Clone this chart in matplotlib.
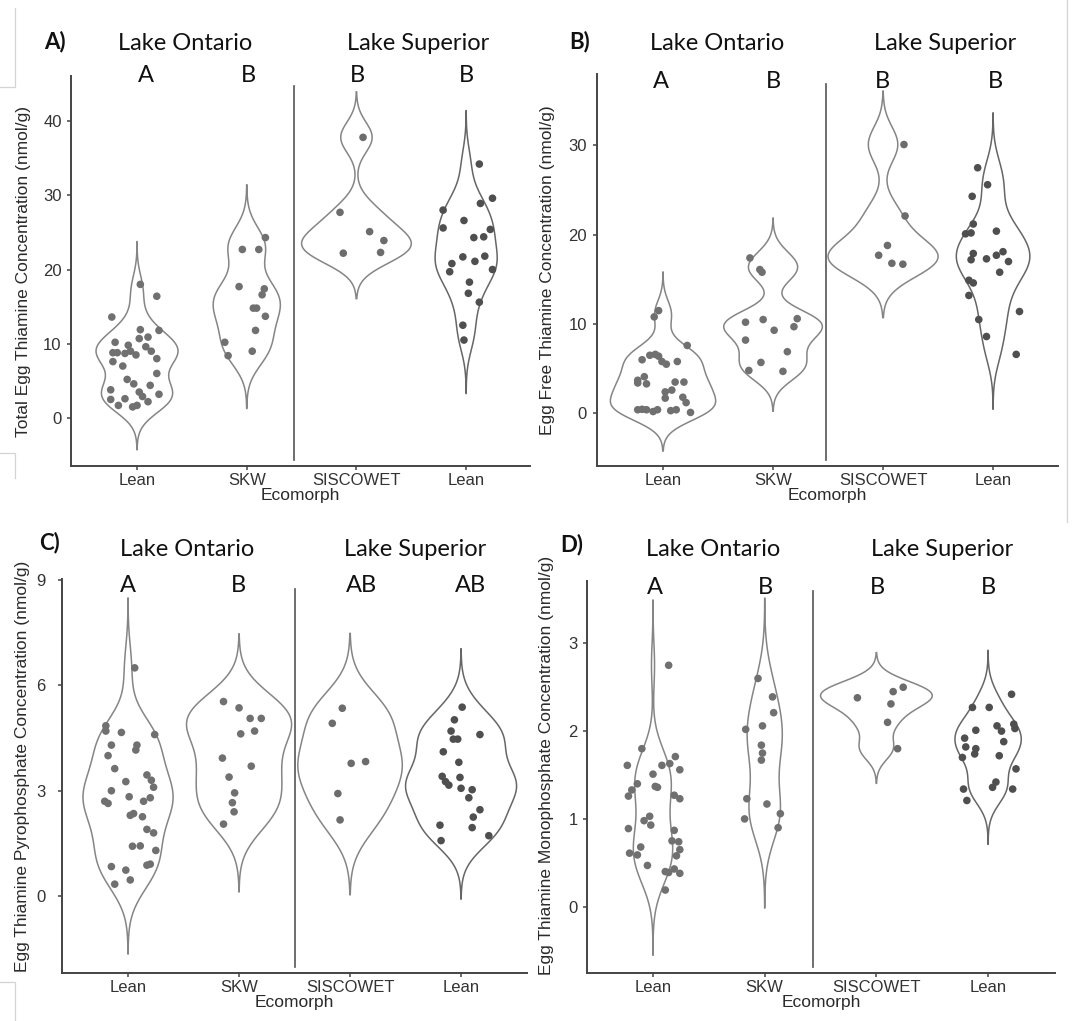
import numpy as np
import matplotlib
matplotlib.use('Agg')
import matplotlib.pyplot as plt

# ---------------- data ----------------
groups = ['Lean', 'SKW', 'SISCOWET', 'Lean']
lake_titles = ['Lake Ontario', 'Lake Superior']

# Panel A: total egg thiamine (nmol/g)
a_lean_on = [18.0, 16.4, 13.6, 11.9, 11.8, 10.9, 10.7, 10.2, 9.8, 9.6, 8.8, 8.8, 8.7, 9.0, 8.5, 9.0,
             8.0, 7.6, 7.0, 6.0, 5.2, 4.6, 4.4, 3.8, 3.5, 3.2, 2.9, 2.5, 2.6, 2.2, 1.7, 1.5, 1.7]
a_lean_on_jit = [0.03, 0.18, -0.23, 0.03, 0.20, 0.10, 0.02, -0.20, -0.08, 0.08, -0.22, -0.18, -0.11, -0.06, -0.01, 0.13,
                 0.18, -0.22, -0.13, 0.18, -0.09, -0.03, 0.12, -0.24, 0.02, 0.20, 0.05, -0.24, -0.11, 0.10, -0.17, -0.04, 0.00]
a_skw = [24.3, 22.7, 22.7, 17.7, 17.4, 16.6, 14.8, 14.8, 13.7, 11.8, 10.2, 8.4, 9.0]
a_skw_jit = [0.17, -0.04, 0.11, -0.07, 0.16, 0.14, 0.06, 0.09, 0.17, 0.08, -0.20, -0.17, 0.05]
a_sis = [37.8, 27.7, 25.1, 23.9, 22.2, 22.3]
a_sis_jit = [0.06, -0.15, 0.12, 0.25, -0.12, 0.22]
a_lean_su = [34.2, 29.6, 28.9, 28.0, 26.6, 25.6, 25.4, 24.3, 24.4, 21.7, 21.1, 21.8, 20.8, 19.7, 20.0,
             18.3, 16.8, 15.6, 12.5, 10.5]
a_lean_su_jit = [0.12, 0.24, 0.13, -0.21, -0.02, -0.21, 0.22, 0.07, 0.16, -0.03, 0.08, 0.17, -0.13, -0.15, 0.24,
                 0.03, 0.02, 0.12, -0.03, -0.02]

# Panel B: egg free thiamine (nmol/g)
b_lean_on = [11.5, 10.8, 7.6, 6.0, 6.5, 6.6, 6.4, 5.8, 5.5, 5.8, 3.7, 4.1, 3.3, 3.4, 3.5, 3.5, 2.4, 2.6,
             1.7, 1.8, 1.2, 0.1, 0.4, 0.45, 0.4, 0.2, 0.4, 0.3, 0.4]
b_lean_on_jit = [-0.04, -0.08, 0.22, -0.19, -0.12, -0.07, -0.04, -0.01, 0.03, 0.13, -0.23, -0.17, -0.15, -0.23, 0.11, 0.19,
                 0.02, 0.08, 0.02, 0.18, 0.21, 0.25, -0.23, -0.19, -0.15, -0.09, -0.05, 0.07, 0.12]
b_skw = [17.4, 16.1, 15.8, 10.2, 10.5, 9.3, 10.6, 9.7, 8.2, 6.9, 4.8, 5.7, 4.7]
b_skw_jit = [-0.21, -0.12, -0.10, -0.25, -0.09, 0.01, 0.22, 0.19, -0.25, 0.13, -0.22, -0.11, 0.09]
b_sis = [30.1, 22.1, 18.8, 17.7, 16.8, 16.7]
b_sis_jit = [0.19, 0.20, 0.04, -0.04, 0.08, 0.18]
b_lean_su = [27.5, 25.6, 24.3, 21.2, 20.1, 20.2, 20.4, 17.9, 17.2, 17.3, 17.7, 18.1, 17.0, 15.8, 14.9,
             14.6, 13.2, 11.4, 10.5, 8.6, 6.6]
b_lean_su_jit = [-0.14, -0.05, -0.19, -0.18, -0.25, -0.20, 0.03, -0.18, -0.20, -0.06, 0.03, 0.09, 0.14, 0.06, -0.22,
                 -0.18, -0.22, 0.24, -0.13, -0.06, 0.21]

# Panel C: egg thiamine pyrophosphate (nmol/g)
c_lean_on = [6.5, 4.85, 4.7, 4.66, 4.6, 4.3, 4.3, 4.16, 4.0, 3.63, 3.26, 3.45, 3.3, 3.1, 3.0, 2.7, 2.64,
             2.83, 2.7, 2.8, 2.3, 2.35, 2.26, 1.9, 1.8, 1.42, 1.43, 1.3, 0.84, 0.74, 0.88, 0.91, 0.34, 0.46]
c_lean_on_jit = [0.06, -0.20, -0.20, -0.06, 0.24, -0.15, 0.08, 0.07, -0.18, -0.12, -0.02, 0.17, 0.21, 0.23, -0.15, -0.21, -0.18,
                 0.01, 0.14, 0.20, 0.02, 0.05, 0.13, 0.17, 0.23, 0.04, 0.11, 0.25, -0.15, -0.02, 0.17, 0.20, -0.12, 0.02]
c_skw = [5.54, 5.36, 5.06, 5.06, 4.62, 4.70, 3.93, 3.70, 3.39, 2.94, 2.66, 2.40, 2.05]
c_skw_jit = [-0.14, 0.00, 0.10, 0.20, 0.015, 0.14, -0.15, 0.11, -0.09, -0.04, -0.06, -0.045, -0.14]
c_sis = [5.35, 4.92, 3.78, 3.83, 2.92, 2.17]
c_sis_jit = [-0.07, -0.16, 0.01, 0.14, -0.11, -0.09]
c_lean_su = [5.38, 5.02, 4.6, 4.7, 4.47, 4.47, 4.11, 3.81, 3.41, 3.26, 3.16, 3.38, 3.07, 3.03, 2.8,
             2.46, 2.25, 2.02, 1.95, 1.72, 1.58]
c_lean_su_jit = [0.01, -0.06, 0.17, -0.09, -0.07, -0.03, -0.16, -0.02, -0.17, -0.14, -0.11, -0.01, 0.00, 0.10, 0.07,
                 0.17, 0.11, -0.19, 0.10, 0.25, -0.18]

# Panel D: egg thiamine monophosphate (nmol/g)
d_lean_on = [2.75, 1.80, 1.61, 1.71, 1.61, 1.63, 1.56, 1.51, 1.40, 1.33, 1.26, 1.37, 1.36, 1.27, 1.23,
             0.89, 0.98, 1.03, 0.93, 0.87, 0.75, 0.74, 0.65, 0.58, 0.61, 0.59, 0.68, 0.47, 0.40, 0.39,
             0.43, 0.38, 0.19]
d_lean_on_jit = [0.14, -0.10, -0.23, 0.20, 0.08, 0.15, 0.24, 0.00, -0.14, -0.19, -0.22, 0.02, 0.04, 0.19, 0.24,
                 -0.22, -0.08, -0.03, -0.02, 0.19, 0.17, 0.23, 0.24, 0.21, -0.21, -0.14, -0.11, -0.05, 0.11, 0.14,
                 0.19, 0.24, 0.11]
d_skw = [2.60, 2.39, 2.21, 2.02, 2.06, 1.84, 1.75, 1.67, 1.23, 1.17, 1.00, 1.06, 0.90]
d_skw_jit = [-0.06, 0.07, 0.08, -0.17, -0.02, -0.03, -0.02, -0.03, -0.16, 0.02, -0.18, 0.14, 0.12]
d_sis = [2.38, 2.45, 2.50, 2.31, 2.10, 1.80]
d_sis_jit = [-0.17, 0.15, 0.24, 0.13, 0.10, 0.19]
d_lean_su = [2.42, 2.27, 2.27, 2.01, 2.06, 2.00, 2.08, 2.03, 1.92, 1.82, 1.80, 1.74, 1.88, 1.70, 1.72,
             1.57, 1.42, 1.36, 1.34, 1.34, 1.21]
d_lean_su_jit = [0.21, -0.14, 0.01, -0.11, 0.08, 0.12, 0.23, 0.24, -0.21, -0.20, -0.11, -0.12, 0.14, -0.23, 0.10,
                 0.25, 0.07, 0.04, -0.22, 0.22, -0.19]

letters_a = ['A', 'B', 'B', 'B']
letters_b = ['A', 'B', 'B', 'B']
letters_c = ['A', 'B', 'AB', 'AB']
letters_d = ['A', 'B', 'B', 'B']

ylabels = ['Total Egg Thiamine Concentration (nmol/g)',
           'Egg Free Thiamine Concentration (nmol/g)',
           'Egg Thiamine Pyrophosphate Concentration (nmol/g)',
           'Egg Thiamine Monophosphate Concentration (nmol/g)']

# ---------------- helpers ----------------
W, H = 1084, 1021
TITLE_FONT = ['Lato', 'DejaVu Sans']
AXIS_FONT = ['Liberation Sans', 'DejaVu Sans']
plt.rcParams['font.family'] = AXIS_FONT


def nrd0(x):
    # R's default bandwidth (what ggplot's geom_violin uses)
    x = np.asarray(x)
    q75, q25 = np.percentile(x, [75, 25])
    lo = min(np.std(x, ddof=1), (q75 - q25) / 1.34)
    return 0.9 * lo * len(x) ** -0.2


def kde(x):
    x = np.asarray(x)
    bw = nrd0(x)
    grid = np.linspace(x.min() - 3 * bw, x.max() + 3 * bw, 512)
    z = (grid[:, None] - x[None, :]) / bw
    dens = np.exp(-0.5 * z ** 2).sum(axis=1) / (len(x) * bw * np.sqrt(2 * np.pi))
    return grid, dens


def px_axes(l, t, r, b):
    return [l / W, 1 - b / H, (r - l) / W, (b - t) / H]


def fig_text(x, y, s, **kw):
    fig.text(x / W, 1 - y / H, s, ha='center', va='center', **kw)


def fig_line(xs, ys, **kw):
    fig.add_artist(plt.Line2D([x / W for x in xs], [1 - y / H for y in ys], **kw))


fig = plt.figure(figsize=(W / 100, H / 100), dpi=100)

panels = [
    dict(rect=(71, 76, 530, 466), xlim=(0.398, 4.582), ylim=(-6.46, 46.06), yticks=[0, 10, 20, 30, 40],
         sep=2.43, data=[(a_lean_on, a_lean_on_jit), (a_skw, a_skw_jit), (a_sis, a_sis_jit), (a_lean_su, a_lean_su_jit)],
         letters=letters_a, letter_x=[146, 248, 357, 466], letter_y=75, pad=3.5, ylab_xy=(-0.087, 0.5),
         tag='A)', tag_xy=(55, 42), lakes_xy=[(185, 43), (418, 43)]),
    dict(rect=(597, 74, 1058, 466), xlim=(0.40, 4.59), ylim=(-5.9, 38.0), yticks=[0, 10, 20, 30],
         sep=2.48, data=[(b_lean_on, b_lean_on_jit), (b_skw, b_skw_jit), (b_sis, b_sis_jit), (b_lean_su, b_lean_su_jit)],
         letters=letters_b, letter_x=[661, 773, 882, 995], letter_y=82, pad=4.0, ylab_xy=(-0.091, 0.5),
         tag='B)', tag_xy=(580, 42), lakes_xy=[(717, 43), (945, 43)]),
    dict(rect=(62, 579, 527, 973), xlim=(0.405, 4.594), ylim=(-2.19, 9.03), yticks=[0, 3, 6, 9],
         sep=2.50, data=[(c_lean_on, c_lean_on_jit), (c_skw, c_skw_jit), (c_sis, c_sis_jit), (c_lean_su, c_lean_su_jit)],
         letters=letters_c, letter_x=[128, 238, 361, 470], letter_y=585, pad=8.5, ylab_xy=(-0.069, 0.525),
         tag='C)', tag_xy=(50, 543), lakes_xy=[(187, 549), (415, 549)]),
    dict(rect=(587, 581, 1055, 973), xlim=(0.409, 4.599), ylim=(-0.755, 3.71), yticks=[0, 1, 2, 3],
         sep=2.43, data=[(d_lean_on, d_lean_on_jit), (d_skw, d_skw_jit), (d_sis, d_sis_jit), (d_lean_su, d_lean_su_jit)],
         letters=letters_d, letter_x=[655, 765, 877, 988], letter_y=587, pad=3.5, ylab_xy=(-0.0705, 0.53),
         tag='D)', tag_xy=(572, 545), lakes_xy=[(713, 549), (942, 549)]),
]

point_cols = ['#707070', '#707070', '#6c6c6c', '#4f4f4f']
violin_cols = ['#858585', '#858585', '#858585', '#666666']

for p, ylab in zip(panels, ylabels):
    ax = fig.add_axes(px_axes(*p['rect']))
    kdes = [kde(vals) for vals, _ in p['data']]
    dmax = max(d.max() for _, d in kdes)
    for i, ((vals, jit), (grid, dens)) in enumerate(zip(p['data'], kdes)):
        pos = i + 1
        hw = 0.5 * dens / dmax
        xs = np.concatenate([pos - hw, (pos + hw)[::-1]])
        ys = np.concatenate([grid, grid[::-1]])
        ax.fill(xs, ys, facecolor='white', edgecolor=violin_cols[i], linewidth=1.1, zorder=2)
        ax.scatter(pos + np.asarray(jit), vals, s=30, color=point_cols[i], edgecolors='none', zorder=3)

    ax.axvline(p['sep'], ymin=0.015, ymax=0.975, color='#555555', linewidth=1.2, zorder=1)

    ax.set_xlim(*p['xlim'])
    ax.set_ylim(*p['ylim'])
    ax.set_xticks([1, 2, 3, 4])
    ax.set_xticklabels(groups)
    ax.set_yticks(p['yticks'])
    for side in ['top', 'right']:
        ax.spines[side].set_visible(False)
    for side in ['left', 'bottom']:
        ax.spines[side].set_color('#444444')
        ax.spines[side].set_linewidth(1.4)
    ax.tick_params(axis='both', colors='#444444', labelcolor='#333333', labelsize=12,
                   length=3.2, width=1.1, pad=2)
    ax.tick_params(axis='y', pad=p['pad'])
    ax.set_xlabel('Ecomorph', fontsize=12.5, color='#2a2a2a', labelpad=0)
    ax.set_ylabel(ylab, fontsize=12.5, color='#2a2a2a')
    ax.yaxis.set_label_coords(*p['ylab_xy'])

    # titles and significance letters
    fig_text(*p['tag_xy'], p['tag'], fontsize=16, fontweight='bold', family=TITLE_FONT, color='#111111')
    for (lx, ly), lake in zip(p['lakes_xy'], lake_titles):
        fig_text(lx, ly, lake, fontsize=17, family=TITLE_FONT, color='#111111')
    for lx, let in zip(p['letter_x'], p['letters']):
        fig_text(lx, p['letter_y'], let, fontsize=17, family=TITLE_FONT, color='#111111')

# faint crop-frame remnants of the pasted panels
frame_kw = dict(color='#d4d4d4', linewidth=0.9)
fig_line([15, 15, 0], [8, 87, 87], **frame_kw)
fig_line([0, 15, 15], [453, 453, 478], **frame_kw)
fig_line([0, 15, 15], [982, 982, 1021], **frame_kw)
fig_line([1067, 1067], [0, 522], **frame_kw)

fig.savefig('out.png', dpi=100)
